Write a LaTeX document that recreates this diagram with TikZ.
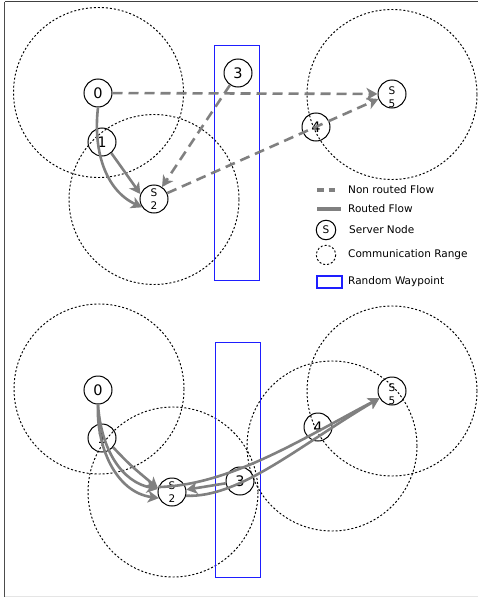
\documentclass[tikz,border=0pt]{standalone}
\usepackage{fontspec}
\setmainfont{DejaVu Sans}
\usetikzlibrary{arrows.meta}
\definecolor{wpblue}{RGB}{30,30,255}
\begin{document}
\begin{tikzpicture}[x=1pt,y=-1pt,
  rng/.style={draw=black, line width=0.95pt, dash pattern=on 2pt off 2pt},
  wp/.style={draw=wpblue, line width=1.4pt},
  nd/.style={circle, draw=black, line width=1pt, minimum size=28pt, inner sep=0pt, font=\fontsize{14.5}{14}\selectfont},
  srv/.style={nd, font=\fontsize{10.5}{13}\selectfont, align=center},
  flow/.style={draw=gray, line width=2.6pt, -{Stealth[length=11pt,width=12pt,inset=3pt]}},
  nonrouted/.style={flow, dash pattern=on 10pt off 6pt},
  routed/.style={flow},
  lg/.style={anchor=west, font=\fontsize{10.5}{12}\selectfont, inner sep=0pt}
]
\useasboundingbox (0,0) rectangle (478,597);
% frame
\draw[black!10, line width=1pt] (4.5,596) -- (478,596);
\draw[black!75, line width=1pt] (4.5,1.5) -- (478,1.5);
\draw[black!70, line width=1.8pt] (4.5,597) -- (4.5,1.5);

% ===== top panel =====
\draw[rng] (98.5,92.5) circle (85);
\draw[rng] (154,199.5) circle (85);
\draw[rng] (392,94.5) circle (85);
\draw[wp] (214.5,45.5) rectangle (259.5,280.5);

\node[nd] (n0t) at (98,93) {0};
\node[nd] (n1t) at (102,142) {1};
\node[srv] (s2t) at (154,199) {S\\2};
\node[nd] (n3t) at (238,73) {3};
\node[nd] (n4t) at (316,127) {4};
\node[srv, label={[font=\fontsize{10.5}{13}\selectfont, align=center, yshift=-3pt]center:{S\\5}}] (s5t) at (392,94) {};

\draw[nonrouted] (n0t) -- (s5t);
\draw[nonrouted] (n3t) -- (s2t);
\draw[nonrouted] (s2t) -- (s5t.200);
\draw[routed] (n0t.south) .. controls (93,150) and (105,190) .. (s2t.215);
\draw[routed] (n1t.-50) .. controls (122,168) .. (s2t.160);

% legend
\coordinate (la1) at (317,190);
\coordinate (la2) at (335,190);
\draw[gray, line width=4.5pt, dash pattern=on 6.5pt off 5pt] (la1) -- (la2);
\node[lg] (lt1) at (348,190) {Non routed Flow};
\coordinate (lb1) at (317,209);
\coordinate (lb2) at (341,209);
\draw[gray, line width=4.5pt] (lb1) -- (lb2);
\node[lg] (lt2) at (348,209) {Routed Flow};
\node[circle, draw=black, line width=1pt, minimum size=19.5pt, inner sep=0pt, font=\fontsize{10.5}{12}\selectfont] (lsrv) at (326,230) {S};
\node[lg] (lt3) at (349,230) {Server Node};
\draw[rng] (326,255) circle (9.7);
\node[lg] (lt4) at (348,255) {Communication Range};
\draw[wp] (317,276) rectangle (342,288);
\node[lg] (lt5) at (348,282) {Random Waypoint};

% ===== bottom panel =====
\draw[rng] (99,389) circle (85);
\draw[rng] (173,492) circle (85);
\draw[rng] (332,446) circle (85);
\draw[rng] (392,391) circle (85);
\draw[wp] (215.5,342.5) rectangle (260.5,577.5);

\node[nd] (n0b) at (98,390) {0};
\node[nd] (n1b) at (102,438) {1};
\node[srv] (s2b) at (172,492) {S\\2};
\node[nd] (n3b) at (240,481) {3};
\node[nd] (n4b) at (318,427) {4};
\node[srv, label={[font=\fontsize{10.5}{13}\selectfont, align=center, yshift=-3pt]center:{S\\5}}] (s5b) at (392,391) {};

\draw[routed] (n0b.south) .. controls (96,445) and (115,492) .. (s2b.205);
\draw[routed] (n0b.south) .. controls (101,450) and (122,482) .. (s2b.168);
\draw[routed] (n1b.-40) .. controls (130,465) .. (s2b.165);
\draw[routed] (s2b.160) .. controls (230,485) and (300,440) .. (s5b.210);
\draw[routed] (n3b) -- (s2b);
\draw[routed] (s2b.-15) .. controls (240,498) and (300,445) .. (s5b.210);
\end{tikzpicture}
\end{document}
